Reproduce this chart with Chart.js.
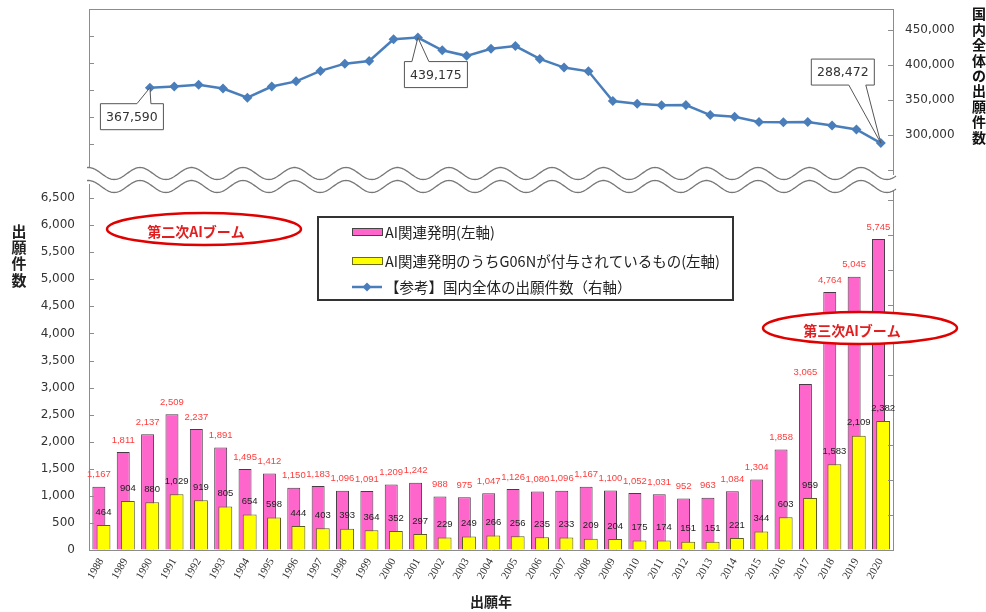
<!DOCTYPE html>
<html>
<head>
<meta charset="utf-8">
<script src="https://cdn.jsdelivr.net/npm/chart.js@4.4.1/dist/chart.umd.min.js"></script>
<style>
  html, body { margin: 0; padding: 0; background: #fff; }
  #wrap { position: relative; width: 986px; height: 612px; }
  #wrap canvas { position: absolute; left: 0; top: 0; }
</style>
</head>
<body>
<div id="wrap">
  <canvas id="barChart" width="986" height="612"></canvas>
  <canvas id="lineChart" width="986" height="612"></canvas>
</div>
<script>
const years = ['1988', '1989', '1990', '1991', '1992', '1993', '1994', '1995', '1996', '1997', '1998',
  '1999', '2000', '2001', '2002', '2003', '2004', '2005', '2006', '2007', '2008', '2009',
  '2010', '2011', '2012', '2013', '2014', '2015', '2016', '2017', '2018', '2019', '2020'];

// AI関連発明
const aiApps = [1167, 1811, 2137, 2509, 2237, 1891, 1495, 1412, 1150, 1183, 1096,
  1091, 1209, 1242, 988, 975, 1047, 1126, 1080, 1096, 1167, 1100,
  1052, 1031, 952, 963, 1084, 1304, 1858, 3065, 4764, 5045, 5745];

// うちG06N付与
const g06nApps = [464, 904, 880, 1029, 919, 805, 654, 598, 444, 403, 393,
  364, 352, 297, 229, 249, 266, 256, 235, 233, 209, 204,
  175, 174, 151, 151, 221, 344, 603, 959, 1583, 2109, 2382];

// 国内全体 (right axis), starts 1990
const domesticApps = [null, null, 367590, 369396, 371894, 366486, 353301, 369215, 376615, 391572, 401932,
  405655, 436865, 439175, 421044, 413092, 423081, 427078, 408674, 396291, 391002, 348596,
  344598, 342610, 342796, 328436, 325989, 318721, 318381, 318479, 313567, 307969, 288472];

const leftTicks = [0, 500, 1000, 1500, 2000, 2500, 3000, 3500, 4000, 4500, 5000, 5500, 6000, 6500];
const rightTicks = [250000, 300000, 350000, 400000, 450000];

const seriesNames = ['AI関連発明(左軸)', 'AI関連発明のうちG06Nが付与されているもの(左軸)', '【参考】国内全体の出願件数（右軸）'];
const leftTitle = '出願件数';
const rightTitle = '国内全体の出願件数';
const xTitle = '出願年';

// callouts on the line: box centre relative to the point, pointer base on box edge
const callouts = [
  { year: '1990', dx: -18, dy: 29, base: [5, 19] },
  { year: '2001', dx: 18, dy: 37, base: [-24, -7] },
  { year: '2020', dx: -38, dy: -71, base: [6, 23] }
];

const booms = [
  { text: '第二次AIブーム', cx: 204, cy: 229, rx: 97, ry: 16 },
  { text: '第三次AIブーム', cx: 860, cy: 328, rx: 97, ry: 16 }
];

const PINK = '#FF66CC';
const YELLOW = '#FFFF00';
const BLUE = '#4A7EBB';
const AXIS = '#8c8c8c';
const JP = '"Noto Sans CJK JP", sans-serif';
const NUM = '"DejaVu Sans", sans-serif';

const fmt = v => v.toLocaleString('en-US');

// short tick marks drawn inside the plot
const inTicks = {
  id: 'inTicks',
  afterDraw(chart, args, opts) {
    const ctx = chart.ctx;
    const area = chart.chartArea;
    ctx.save();
    ctx.strokeStyle = AXIS;
    ctx.lineWidth = 1;
    opts.ids.forEach(id => {
      const s = chart.scales[id];
      const left = s.position === 'left';
      const x0 = left ? area.left : area.right;
      s.ticks.forEach(t => {
        const y = Math.round(s.getPixelForValue(t.value)) + 0.5;
        if (y < area.top || y > area.bottom) return;
        ctx.beginPath();
        ctx.moveTo(x0, y);
        ctx.lineTo(x0 + (left ? 5 : -5), y);
        ctx.stroke();
      });
    });
    ctx.restore();
  }
};

const barLabels = {
  id: 'barLabels',
  afterDatasetsDraw(chart) {
    const ctx = chart.ctx;
    ctx.save();
    ctx.font = '9.5px "Liberation Sans", sans-serif';
    ctx.textAlign = 'center';
    ctx.textBaseline = 'middle';
    [[1, aiApps, '#FF3B3B', 12], [2, g06nApps, '#222', 13]].forEach(([di, vals, col, off]) => {
      ctx.fillStyle = col;
      chart.getDatasetMeta(di).data.forEach((bar, i) => {
        ctx.fillText(fmt(vals[i]), bar.x, bar.y - off);
      });
    });
    ctx.restore();
  }
};

const bottomDecor = {
  id: 'bottomDecor',
  afterDraw(chart) {
    const ctx = chart.ctx;
    ctx.save();

    // legend
    ctx.fillStyle = '#fff';
    ctx.fillRect(318, 217, 415, 83);
    ctx.strokeStyle = '#333';
    ctx.lineWidth = 2;
    ctx.strokeRect(318, 217, 415, 83);
    ctx.lineWidth = 1;
    ctx.fillStyle = PINK; ctx.fillRect(352.5, 228.5, 30, 7);
    ctx.strokeStyle = '#444'; ctx.strokeRect(352.5, 228.5, 30, 7);
    ctx.fillStyle = YELLOW; ctx.fillRect(352.5, 257.5, 30, 7);
    ctx.strokeStyle = '#6b6b20'; ctx.strokeRect(352.5, 257.5, 30, 7);
    ctx.strokeStyle = BLUE; ctx.lineWidth = 2.5;
    ctx.beginPath(); ctx.moveTo(352, 287); ctx.lineTo(382, 287); ctx.stroke();
    ctx.fillStyle = BLUE;
    ctx.beginPath(); ctx.moveTo(367, 282.5); ctx.lineTo(371.5, 287); ctx.lineTo(367, 291.5); ctx.lineTo(362.5, 287); ctx.closePath(); ctx.fill();
    ctx.fillStyle = '#222';
    ctx.font = '14.5px ' + JP;
    ctx.textBaseline = 'middle';
    ctx.textAlign = 'left';
    [232, 261, 287].forEach((y, i) => ctx.fillText(seriesNames[i], 385, y));

    // boom ellipses
    booms.forEach(b => {
      ctx.beginPath();
      ctx.ellipse(b.cx, b.cy, b.rx, b.ry, 0, 0, Math.PI * 2);
      ctx.fillStyle = '#fff';
      ctx.fill();
      ctx.strokeStyle = '#E00000';
      ctx.lineWidth = 2.5;
      ctx.stroke();
      ctx.fillStyle = '#E02020';
      ctx.font = 'bold 14px ' + JP;
      ctx.textAlign = 'center';
      ctx.fillText(b.text, b.cx - 8, b.cy + 3);
    });

    // left axis title, stacked characters
    ctx.fillStyle = '#222';
    ctx.font = 'bold 15px ' + JP;
    ctx.textAlign = 'center';
    [...leftTitle].forEach((c, i) => ctx.fillText(c, 19, 231 + i * 16.3));
    ctx.restore();
  }
};

const topDecor = {
  id: 'topDecor',
  afterDraw(chart) {
    const ctx = chart.ctx;
    const area = chart.chartArea;
    ctx.save();

    // top frame line
    ctx.strokeStyle = AXIS;
    ctx.lineWidth = 1;
    ctx.beginPath();
    ctx.moveTo(area.left, area.top + 0.5);
    ctx.lineTo(area.right, area.top + 0.5);
    ctx.stroke();

    // axis break (two waves)
    const wave = (x, off) => 173.5 + off - 6 * Math.cos(2 * Math.PI * (x - 140) / 51.5);
    const x0 = area.left - 2, x1 = area.right + 3;
    ctx.beginPath();
    for (let x = x0; x <= x1; x++) ctx.lineTo(x, wave(x, 0));
    for (let x = x1; x >= x0; x--) ctx.lineTo(x, wave(x, 13));
    ctx.closePath();
    ctx.fillStyle = '#fff';
    ctx.fill();
    ctx.strokeStyle = '#777';
    ctx.lineWidth = 1.3;
    [0, 13].forEach(off => {
      ctx.beginPath();
      for (let x = x0; x <= x1; x++) ctx.lineTo(x, wave(x, off));
      ctx.stroke();
    });

    // callouts
    const meta = chart.getDatasetMeta(0);
    ctx.font = '12.5px ' + NUM;
    ctx.textAlign = 'center';
    ctx.textBaseline = 'middle';
    callouts.forEach(c => {
      const p = meta.data[years.indexOf(c.year)];
      const cx = p.x + c.dx, cy = p.y + c.dy;
      const w = 63, h = 26;
      const l = cx - w / 2, r = cx + w / 2, t = cy - h / 2, b = cy + h / 2;
      ctx.beginPath();
      if (c.dy > 0) {
        ctx.moveTo(l, t);
        ctx.lineTo(cx + c.base[0], t);
        ctx.lineTo(p.x, p.y);
        ctx.lineTo(cx + c.base[1], t);
        ctx.lineTo(r, t); ctx.lineTo(r, b); ctx.lineTo(l, b);
      } else {
        ctx.moveTo(l, t); ctx.lineTo(r, t); ctx.lineTo(r, b);
        ctx.lineTo(cx + c.base[1], b);
        ctx.lineTo(p.x, p.y);
        ctx.lineTo(cx + c.base[0], b);
        ctx.lineTo(l, b);
      }
      ctx.closePath();
      ctx.fillStyle = '#fff';
      ctx.fill();
      ctx.strokeStyle = '#555';
      ctx.lineWidth = 1;
      ctx.stroke();
      ctx.fillStyle = '#333';
      ctx.fillText(fmt(domesticApps[years.indexOf(c.year)]), cx, cy + 1);
    });

    // right axis title, stacked characters
    ctx.fillStyle = '#111';
    ctx.font = 'bold 14px ' + JP;
    [...rightTitle].forEach((ch, i) => ctx.fillText(ch, 979, 14 + i * 15.4));
    ctx.restore();
  }
};

const noPad = s => { s.paddingTop = 0; s.paddingBottom = 0; };

const barChart = new Chart(document.getElementById('barChart'), {
  type: 'bar',
  data: {
    labels: years,
    datasets: [
      { label: '', data: [], stack: 's1', order: 0 },
      {
        label: seriesNames[0], data: aiApps, stack: 's1', order: 2,
        backgroundColor: PINK, borderColor: '#4a3a48', borderWidth: 1, barPercentage: 2.8
      },
      {
        label: seriesNames[1], data: g06nApps, stack: 's2', order: 1,
        backgroundColor: YELLOW, borderColor: '#5c5c1c', borderWidth: 1, barPercentage: 3.0
      }
    ]
  },
  options: {
    responsive: false,
    animation: false,
    datasets: { bar: { categoryPercentage: 0.38 } },
    layout: { padding: { top: 184, left: 0, right: 0, bottom: 0 } },
    plugins: { legend: { display: false }, tooltip: { enabled: false }, inTicks: { ids: ['y', 'yr'] } },
    scales: {
      x: {
        grid: { display: true, drawOnChartArea: false, drawTicks: false },
        border: { color: AXIS },
        ticks: { color: '#333', font: { family: '"Liberation Serif", serif', size: 11 }, minRotation: 60, maxRotation: 60, autoSkip: false, padding: 6 },
        title: { display: true, text: xTitle, color: '#222', font: { family: JP, size: 14, weight: 'bold' }, padding: { top: 0, bottom: 2 } },
        afterFit: s => { s.height = 62; }
      },
      y: {
        position: 'left',
        min: 0,
        max: 6760,
        stacked: false,
        grid: { display: true, drawOnChartArea: false, drawTicks: false },
        border: { color: AXIS },
        ticks: { color: '#333', font: { family: NUM, size: 12 }, padding: 14, callback: v => fmt(v) },
        afterBuildTicks: s => { s.ticks = leftTicks.map(v => ({ value: v })); },
        afterFit: s => { s.width = 89; noPad(s); }
      },
      yr: {
        position: 'right',
        min: 0,
        max: 10.46,
        grid: { display: true, drawOnChartArea: false, drawTicks: false },
        border: { color: AXIS },
        ticks: { display: false },
        afterBuildTicks: s => { s.ticks = [0, 1, 2, 3, 4, 5, 6, 7, 8, 9, 10].map(v => ({ value: v })); },
        afterFit: s => { s.width = 93; noPad(s); }
      }
    }
  },
  plugins: [inTicks, barLabels, bottomDecor]
});

const lineChart = new Chart(document.getElementById('lineChart'), {
  type: 'line',
  data: {
    labels: years,
    datasets: [{
      label: seriesNames[2],
      data: domesticApps,
      yAxisID: 'y',
      borderColor: BLUE,
      backgroundColor: BLUE,
      borderWidth: 2.5,
      pointStyle: 'rectRot',
      pointRadius: 5,
      pointBorderWidth: 0,
      tension: 0
    }]
  },
  options: {
    responsive: false,
    animation: false,
    layout: { padding: { top: 9, left: 0, right: 0, bottom: 438 } },
    plugins: { legend: { display: false }, tooltip: { enabled: false }, inTicks: { ids: ['yl', 'y'] } },
    scales: {
      x: { display: false, offset: true },
      yl: {
        position: 'left',
        min: -0.11,
        max: 6,
        grid: { display: true, drawOnChartArea: false, drawTicks: false },
        border: { color: AXIS },
        ticks: { display: false },
        afterBuildTicks: s => { s.ticks = [0, 1, 2, 3, 4, 5].map(v => ({ value: v })); },
        afterFit: s => { s.width = 89; noPad(s); }
      },
      y: {
        position: 'right',
        min: 244300,
        max: 480000,
        grid: { display: true, drawOnChartArea: false, drawTicks: false },
        border: { color: AXIS },
        ticks: { color: '#333', font: { family: NUM, size: 12 }, padding: 12, callback: v => (v >= 300000 ? fmt(v) : '') },
        afterBuildTicks: s => { s.ticks = rightTicks.map(v => ({ value: v })); },
        afterFit: s => { s.width = 93; noPad(s); }
      }
    }
  },
  plugins: [inTicks, topDecor]
});
</script>
</body>
</html>
